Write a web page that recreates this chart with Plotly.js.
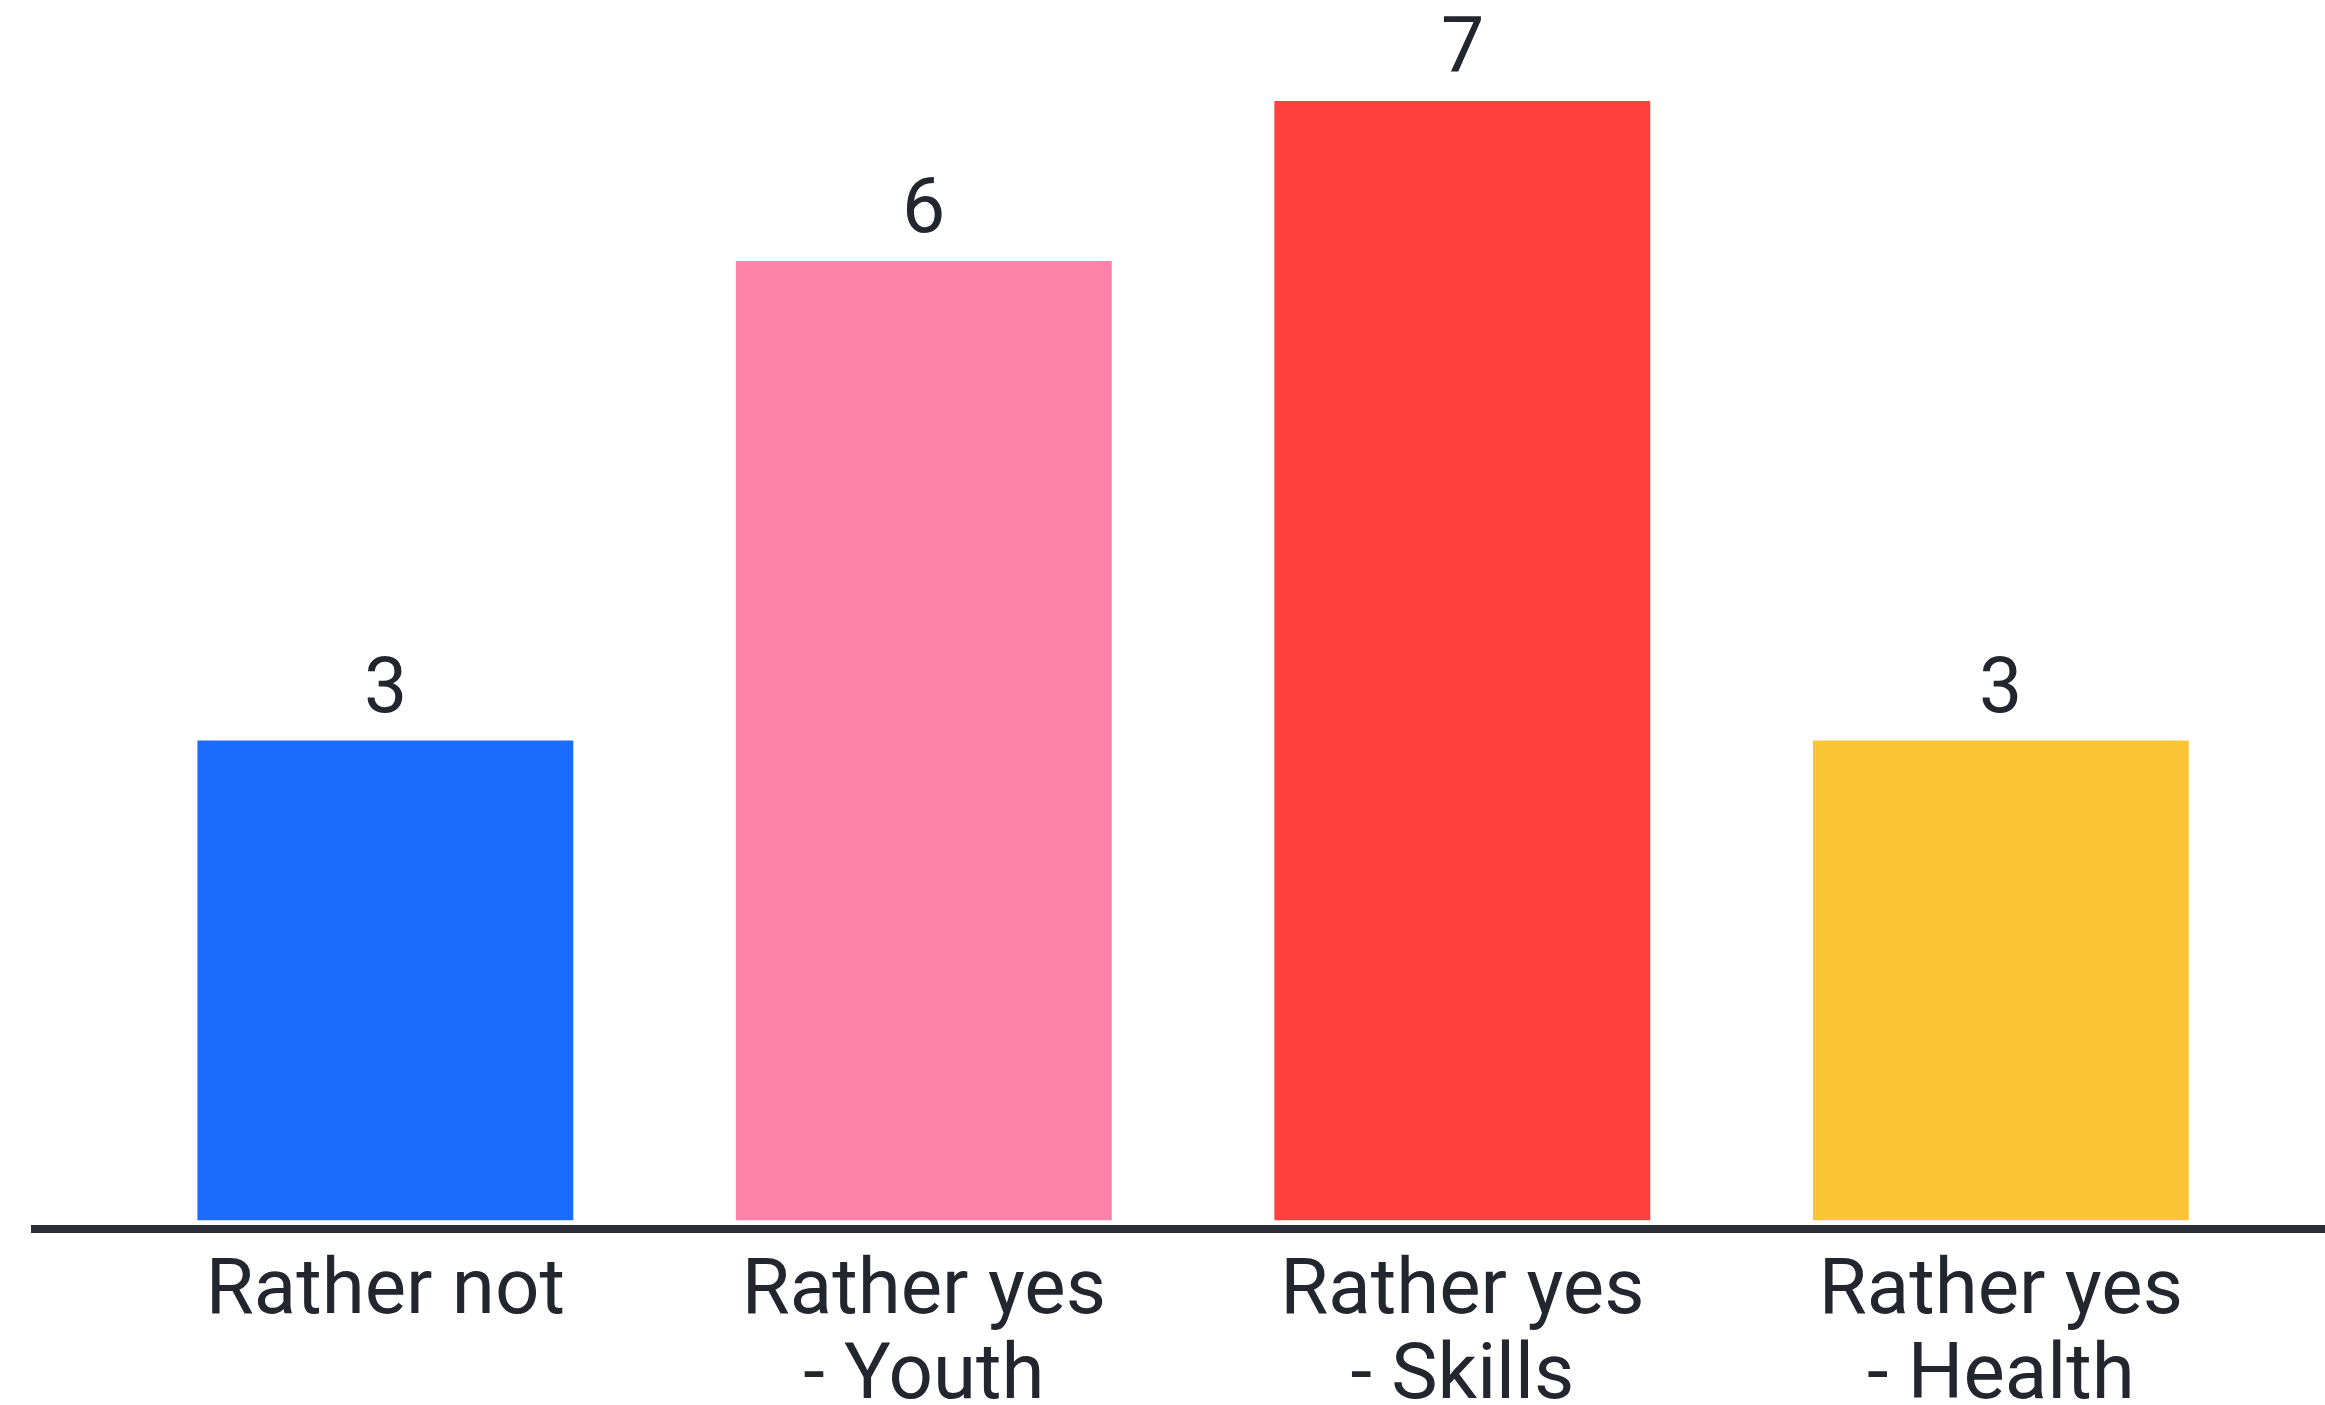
<!DOCTYPE html>
<html>
<head>
<meta charset="utf-8">
<script src="https://cdn.plot.ly/plotly-3.0.1.min.js"></script>
<style>
  html, body { margin: 0; padding: 0; background: #ffffff; }
  #chart { width: 2325px; height: 1405px; }
</style>
</head>
<body>
<div id="chart"></div>
<script>
// ---- data ----
const categories = ["Rather not", "Rather yes<br>- Youth", "Rather yes<br>- Skills", "Rather yes<br>- Health"];
const values = [3, 6, 7, 3];
const barColors = ["#1B6BFF", "#FF82AA", "#FF403D", "#FDC436"];

// ---- styling ----
const FONT = "Roboto, 'Open Sans', sans-serif";
const TEXT_COLOR = "#23262E";
const LABEL_SIZE = 78;
const LINE_BASE = 65; // controls the gap between the two lines of a label

const tickText = categories.map(c =>
  c.split("<br>").map(s => '<span style="font-size:' + LABEL_SIZE + 'px">' + s + '</span>').join("<br>")
);
const xIdx = categories.map((_, i) => i);

const trace = {
  type: "bar",
  x: xIdx,
  y: values,
  marker: { color: barColors, line: { width: 0 } },
  hoverinfo: "skip",
  showlegend: false
};

const annotations = values.map((v, i) => ({
  x: xIdx[i],
  y: v,
  xref: "x",
  yref: "y",
  text: String(v),
  showarrow: false,
  yanchor: "bottom",
  xanchor: "center",
  yshift: 8,
  font: { family: FONT, size: 77, color: TEXT_COLOR }
}));

const layout = {
  width: 2325,
  height: 1405,
  margin: { l: 31, r: 0, t: 0, b: 180, pad: 0 },
  paper_bgcolor: "#ffffff",
  plot_bgcolor: "#ffffff",
  bargap: 0.302,
  font: { family: FONT, color: TEXT_COLOR },
  xaxis: {
    range: [-0.658, 3.602],
    tickmode: "array",
    tickvals: xIdx,
    ticktext: tickText,
    tickfont: { family: FONT, size: LINE_BASE, color: TEXT_COLOR },
    showline: true,
    linecolor: "#2B2E36",
    linewidth: 8,
    ticks: "",
    showgrid: false,
    zeroline: false,
    ticklabelstandoff: 2,
    fixedrange: true
  },
  yaxis: {
    range: [-0.03, 7.632],
    visible: false,
    showgrid: false,
    zeroline: false,
    fixedrange: true
  },
  annotations: annotations
};

Plotly.newPlot("chart", [trace], layout, { staticPlot: true, displayModeBar: false });
</script>
</body>
</html>
